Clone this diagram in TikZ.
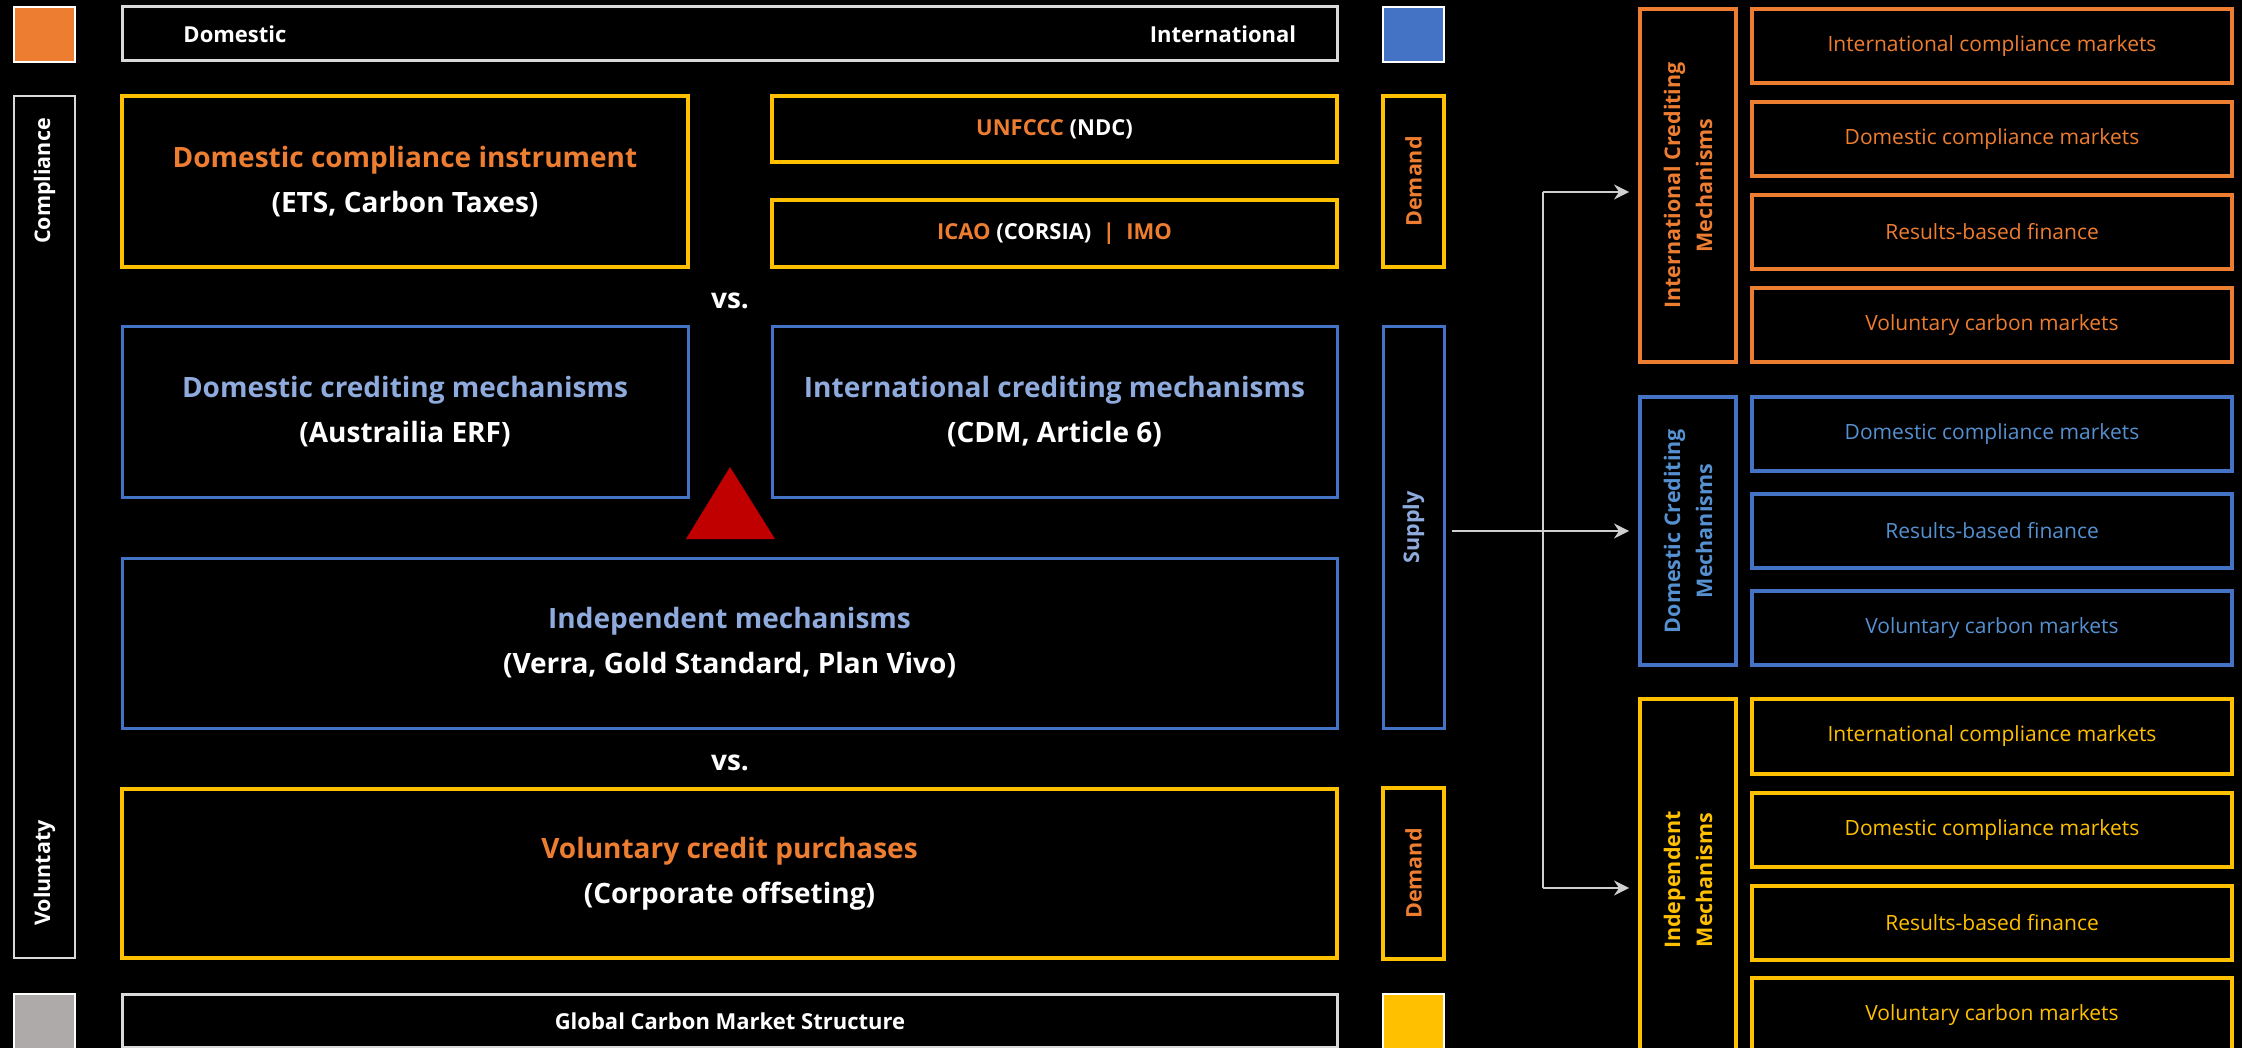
\documentclass[tikz,border=0pt]{standalone}
\usepackage{fontspec}
\setmainfont{Open Sans}
\usetikzlibrary{fit,arrows.meta}
\definecolor{corange}{HTML}{ED7D31}
\definecolor{cblue}{HTML}{4472C4}
\definecolor{cyellow}{HTML}{FFC000}
\definecolor{cgray}{HTML}{AEAAAA}
\definecolor{clblue}{HTML}{8FAADC}
\definecolor{cmblue}{HTML}{5590D0}
\definecolor{cred}{HTML}{C00000}
\definecolor{cline}{HTML}{D9D9D9}
\definecolor{carrow}{HTML}{CFCFCF}
\begin{document}
\begin{tikzpicture}[x=1pt,y=-1pt,
  box/.style={draw=#1, line width=3.5pt, inner sep=0pt},
  txt/.style={align=center, inner sep=0pt, text=white},
  mainf/.style={txt, font=\fontsize{28}{45}\selectfont\bfseries},
  smallf/.style={txt, font=\fontsize{22}{26}\selectfont\bfseries},
  mkt/.style={draw=#1, line width=4pt, inner sep=0pt},
  mktf/.style={txt, text=#1, font=\fontsize{21}{25}\selectfont},
  vlabel/.style={rotate=90, align=center, inner sep=0pt, font=\fontsize{21.5}{32}\selectfont\bfseries},
  swatch/.style={draw=white, line width=2.5pt, fill=#1, inner sep=0pt},
  conn/.style={draw=carrow, line width=1.6pt},
  arr/.style={conn, -{Stealth[length=15pt,width=15pt,inset=5pt]}, shorten >=9pt}
]
\useasboundingbox (0,0) rectangle (2242,1048);
\fill[black] (0,0) rectangle (2242,1048);
\clip (0,0) rectangle (2242,1048);

% swatches
\node[swatch=corange, fit={(14,7) (75,62)}] (sqo) {};
\node[swatch=cblue, fit={(1383,7) (1444,62)}] (sqb) {};
\node[swatch=cgray, fit={(14,994) (75,1060)}] (sqg) {};
\node[swatch=cyellow, fit={(1383,994) (1444,1060)}] (sqy) {};

% top and bottom bars
\node[box=cline, line width=3pt, fit={(122,7) (1337,61)}] (topbar) {};
\node[smallf] (tdom) at (235,34) {Domestic};
\node[smallf] (tint) at (1223,34) {International};
\node[box=cline, line width=3pt, fit={(122,994) (1337,1047)}] (botbar) {};
\node[smallf] (tbot) at (730,1021) {Global Carbon Market Structure};

% side bar
\node[box=cline, line width=2.5pt, fit={(14,96) (75,958)}] (side) {};
\node[vlabel, text=white] (lcomp) at (44.5,181) {Compliance};
\node[vlabel, text=white] (lvol) at (44.5,873) {Voluntaty};

% main boxes
\node[box=cyellow, fit={(122,96) (688,267)}] (dci) {};
\node[mainf] (tdci) at (dci.center) {\textcolor{corange}{Domestic compliance instrument}\\(ETS, Carbon Taxes)};
\node[box=cyellow, fit={(772,96) (1337,162)}] (unfccc) {};
\node[smallf] (tunfccc) at (unfccc.center) {\textcolor{corange}{UNFCCC} (NDC)};
\node[box=cyellow, fit={(772,200) (1337,267)}] (icao) {};
\node[smallf] (ticao) at (icao.center) {\textcolor{corange}{ICAO} (CORSIA) \ \textcolor{corange}{|} \ \textcolor{corange}{IMO}};
\node[mainf] (vs1) at (730,301) {vs.};
\node[box=cblue, line width=3pt, fit={(122,327) (688,497)}] (dcm) {};
\node[mainf] (tdcm) at (dcm.center) {\textcolor{clblue}{Domestic crediting mechanisms}\\(Austrailia ERF)};
\node[box=cblue, line width=3pt, fit={(772,327) (1337,497)}] (icm) {};
\node[mainf] (ticm) at (icm.center) {\textcolor{clblue}{International crediting mechanisms}\\(CDM, Article 6)};
\fill[cred] (730,467) -- (775,539) -- (686,539) -- cycle;
\node[box=cblue, line width=3pt, fit={(122,558) (1337,728)}] (indep) {};
\node[mainf] (tindep) at (indep.center) {\textcolor{clblue}{Independent mechanisms}\\(Verra, Gold Standard, Plan Vivo)};
\node[mainf] (vs2) at (730,763) {vs.};
\node[box=cyellow, fit={(122,789) (1337,958)}] (vol) {};
\node[mainf] (tvol) at (vol.center) {\textcolor{corange}{Voluntary credit purchases}\\(Corporate offseting)};

% demand / supply
\node[box=cyellow, fit={(1383,96) (1444,267)}] (dem1) {};
\node[vlabel, text=corange] (ldem1) at (dem1.center) {Demand};
\node[box=cblue, line width=3pt, fit={(1383,327) (1444,728)}] (sup) {};
\node[vlabel, text=clblue] (lsup) at (sup.center) {Supply};
\node[box=cyellow, fit={(1383,788) (1444,959)}] (dem2) {};
\node[vlabel, text=corange] (ldem2) at (dem2.center) {Demand};

% right side: international crediting mechanisms
\node[mkt=corange, fit={(1640,9) (1736,362)}] (ricm) {};
\node[vlabel, text=corange] (lricm) at (ricm.center) {International Crediting\\Mechanisms};
\node[mkt=corange, fit={(1752,9) (2232,83)}] (o1) {};
\node[mktf=corange] (to1) at (o1.center) {International compliance markets};
\node[mkt=corange, fit={(1752,102) (2232,176)}] (o2) {};
\node[mktf=corange] (to2) at (o2.center) {Domestic compliance markets};
\node[mkt=corange, fit={(1752,195) (2232,269)}] (o3) {};
\node[mktf=corange] (to3) at (o3.center) {Results-based finance};
\node[mkt=corange, fit={(1752,288) (2232,362)}] (o4) {};
\node[mktf=corange] (to4) at (o4.center) {Voluntary carbon markets};

% domestic crediting mechanisms
\node[mkt=cblue, fit={(1640,397) (1736,665)}] (rdcm) {};
\node[vlabel, text=cmblue] (lrdcm) at (rdcm.center) {Domestic Crediting\\Mechanisms};
\node[mkt=cblue, fit={(1752,397) (2232,471)}] (b1) {};
\node[mktf=cmblue] (tb1) at (b1.center) {Domestic compliance markets};
\node[mkt=cblue, fit={(1752,494) (2232,568)}] (b2) {};
\node[mktf=cmblue] (tb2) at (b2.center) {Results-based finance};
\node[mkt=cblue, fit={(1752,591) (2232,665)}] (b3) {};
\node[mktf=cmblue] (tb3) at (b3.center) {Voluntary carbon markets};

% independent mechanisms
\node[mkt=cyellow, fit={(1640,699) (1736,1062)}] (rim) {};
\node[vlabel, text=cyellow] (lrim) at (1688,880) {Independent\\Mechanisms};
\node[mkt=cyellow, fit={(1752,699) (2232,774)}] (y1) {};
\node[mktf=cyellow] (ty1) at (y1.center) {International compliance markets};
\node[mkt=cyellow, fit={(1752,793) (2232,867)}] (y2) {};
\node[mktf=cyellow] (ty2) at (y2.center) {Domestic compliance markets};
\node[mkt=cyellow, fit={(1752,886) (2232,960)}] (y3) {};
\node[mktf=cyellow] (ty3) at (y3.center) {Results-based finance};
\node[mkt=cyellow, fit={(1752,978) (2232,1052)}] (y4) {};
\node[mktf=cyellow] (ty4) at (1992,1015) {Voluntary carbon markets};

% connectors
\coordinate (jtop) at (1543,192);
\coordinate (jbot) at (1543,888);
\draw[conn] (jtop) -- (jbot);
\draw[arr] (jtop) -- (jtop -| ricm.west);
\draw[arr] (jbot) -- (jbot -| rim.west);
\draw[arr, shorten <=6pt] (sup.east |- rdcm.west) -- (rdcm.west);
\end{tikzpicture}
\end{document}
